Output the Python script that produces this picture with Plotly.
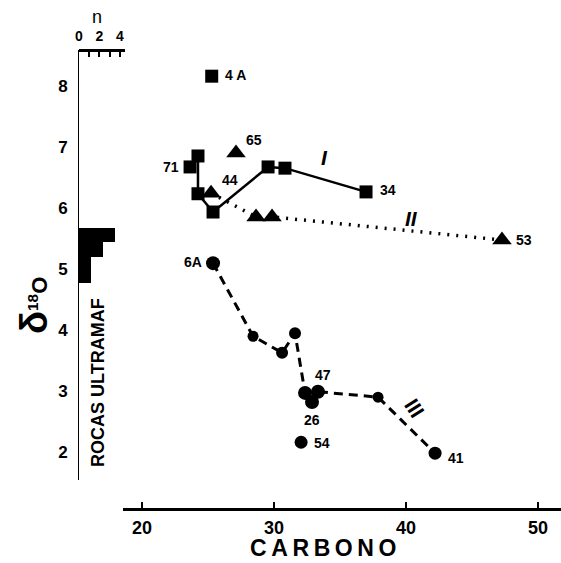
import plotly.graph_objects as go

# ---------------- data ----------------
# Series I (squares, solid line)
s1_x = [24.24, 24.24, 25.38, 29.55, 30.83, 36.97]
s1_y = [6.86, 6.24, 5.94, 6.68, 6.66, 6.27]
# isolated squares
sq_x = [25.28, 23.64]
sq_y = [8.17, 6.68]

# Series II (triangles, dotted line)
s2_x = [25.23, 28.64, 29.85, 47.27]
s2_y = [6.25, 5.86, 5.86, 5.48]
tri_x = [27.12]
tri_y = [6.91]

# Series III (circles, dashed line)
s3_x = [25.38, 28.41, 30.61, 31.59, 32.35, 32.88, 33.33, 37.88, 42.2]
s3_y = [5.10, 3.90, 3.63, 3.95, 2.97, 2.82, 2.99, 2.90, 1.98]
circ_x = [32.05]
circ_y = [2.16]

# histogram of ultramafic rocks (delta 18O bin edges, counts n)
hist_edges = [4.78, 5.20, 5.45, 5.68]
hist_n = [1.2, 2.3, 3.5]

x_ticks = [20, 30, 40, 50]
y_ticks = [2, 3, 4, 5, 6, 7, 8]
n_ticks = [0, 2, 4]

# labels attached to points: (text, x, y, xshift, yshift, xanchor)
point_labels = [
    ("4 A", sq_x[0], sq_y[0], 11, 1, "left"),
    ("71", sq_x[1], sq_y[1], -9, 0, "right"),
    ("65", tri_x[0], tri_y[0], 8, 13, "left"),
    ("44", s2_x[0], s2_y[0], 9, 13, "left"),
    ("34", s1_x[5], s1_y[5], 12, 2, "left"),
    ("53", s2_x[3], s2_y[3], 12, 0, "left"),
    ("6A", s3_x[0], s3_y[0], -9, 1, "right"),
    ("47", s3_x[6], s3_y[6], 5, 17, "center"),
    ("26", s3_x[5], s3_y[5], 0, -18, "center"),
    ("54", circ_x[0], circ_y[0], 11, -1, "left"),
    ("41", s3_x[8], s3_y[8], 11, -5, "left"),
]
# series roman numerals: (text, x, y, angle, size)
series_labels = [
    ("<i>I</i>", 33.86, 6.83, 0, 21),
    ("<i>II</i>", 40.45, 5.84, 0, 21),
    ("III", 40.68, 2.72, 58, 21),
]

FONT = "Liberation Sans"
BLACK = "black"

fig = go.Figure()

# histogram bars
centers = [(hist_edges[i] + hist_edges[i + 1]) / 2 for i in range(len(hist_n))]
widths = [hist_edges[i + 1] - hist_edges[i] for i in range(len(hist_n))]
fig.add_trace(go.Bar(x=hist_n, y=centers, width=widths, orientation="h",
                     xaxis="x2", yaxis="y", marker=dict(color=BLACK, line=dict(width=0))))

# series lines
fig.add_trace(go.Scatter(x=s1_x, y=s1_y, mode="lines+markers",
                         line=dict(color=BLACK, width=2.5),
                         marker=dict(symbol="square", size=13, color=BLACK)))
fig.add_trace(go.Scatter(x=sq_x, y=sq_y, mode="markers",
                         marker=dict(symbol="square", size=13, color=BLACK)))
fig.add_trace(go.Scatter(x=s2_x, y=s2_y, mode="lines+markers",
                         line=dict(color=BLACK, width=3.5, dash="2px,7px"),
                         marker=dict(symbol="triangle-up", size=17, color=BLACK)))
fig.add_trace(go.Scatter(x=tri_x, y=tri_y, mode="markers",
                         marker=dict(symbol="triangle-up", size=17, color=BLACK)))
fig.add_trace(go.Scatter(x=s3_x, y=s3_y, mode="lines+markers",
                         line=dict(color=BLACK, width=3, dash="9px,6px"),
                         marker=dict(symbol="circle", size=[14, 11, 12, 12, 14, 14, 14, 11, 13],
                                     color=BLACK, opacity=1, line=dict(width=0))))
fig.add_trace(go.Scatter(x=circ_x, y=circ_y, mode="markers",
                         marker=dict(symbol="circle", size=13, color=BLACK)))

ann = []
for t, x, y, xs, ys, xa in point_labels:
    ann.append(dict(text=t, x=x, y=y, xref="x", yref="y", xshift=xs, yshift=ys,
                    xanchor=xa, yanchor="middle", showarrow=False,
                    font=dict(family=FONT, size=14, color=BLACK, weight="bold")))
for t, x, y, a, s in series_labels:
    ann.append(dict(text=t, x=x, y=y, xref="x", yref="y", textangle=a,
                    xanchor="center", yanchor="middle",
                    showarrow=False, font=dict(family=FONT, size=s, color=BLACK, weight="bold")))


def px(xp):
    return (xp - 79) / 482


def py(yp):
    return (509 - yp) / 459


# axis titles and other text
ann.append(dict(text="C\u2009A\u2009R\u2009B\u2009O\u2009N\u2009O", x=px(323), y=py(548),
                xref="paper", yref="paper", showarrow=False, xanchor="center", yanchor="middle",
                font=dict(family=FONT, size=23, color=BLACK, weight="bold")))
ann.append(dict(text="<span style='font-size:38px'>\u03b4</span><sup>18</sup>O",
                x=px(34), y=py(306), xref="paper", yref="paper",
                xanchor="center", yanchor="middle",
                textangle=-90, showarrow=False,
                font=dict(family=FONT, size=22, color=BLACK, weight="bold")))
ann.append(dict(text="ROCAS ULTRAMAF", x=px(98), y=py(383),
                xref="paper", yref="paper", textangle=-90, showarrow=False,
                xanchor="center", yanchor="middle",
                font=dict(family=FONT, size=18, color=BLACK, weight="bold")))
ann.append(dict(text="n", x=px(97), y=py(17),
                xref="paper", yref="paper", showarrow=False,
                xanchor="center", yanchor="middle",
                font=dict(family=FONT, size=18, color=BLACK)))

fig.update_layout(
    width=561, height=563,
    margin=dict(l=79, r=0, t=50, b=54, pad=0),
    paper_bgcolor="white", plot_bgcolor="white",
    showlegend=False,
    bargap=0,
    xaxis=dict(domain=[44 / 482, 1], range=[18.56, 51.74], anchor="free", position=0,
               tickvals=x_ticks, ticks="inside", ticklen=6, tickwidth=2, tickcolor=BLACK,
               showline=True, linecolor=BLACK, linewidth=3, showgrid=False, zeroline=False,
               tickfont=dict(family=FONT, size=18, color=BLACK, weight="bold"),
               ticklabelstandoff=1),
    yaxis=dict(domain=[29 / 459, 1], range=[1.54, 8.60], anchor="free", position=0,
               tickvals=y_ticks, ticks="inside", ticklen=5, tickwidth=2, tickcolor=BLACK,
               showline=True, linecolor=BLACK, linewidth=3, showgrid=False, zeroline=False,
               tickfont=dict(family=FONT, size=17, color=BLACK, weight="bold"),
               ticklabelstandoff=7),
    xaxis2=dict(domain=[0, 46 / 482], range=[0, 4.49], anchor="free", position=1, side="top",
                tickvals=n_ticks, ticks="inside", ticklen=5, tickwidth=2,
                tickcolor=BLACK, showline=True, linecolor=BLACK, linewidth=3,
                minor=dict(dtick=1, tick0=0, ticks="inside", ticklen=5, tickwidth=2,
                           tickcolor=BLACK, showgrid=False),
                showgrid=False, zeroline=False,
                tickfont=dict(family=FONT, size=14, color=BLACK, weight="bold"),
                ticklabelstandoff=2),
    annotations=ann,
)

fig.write_html("out.html")
